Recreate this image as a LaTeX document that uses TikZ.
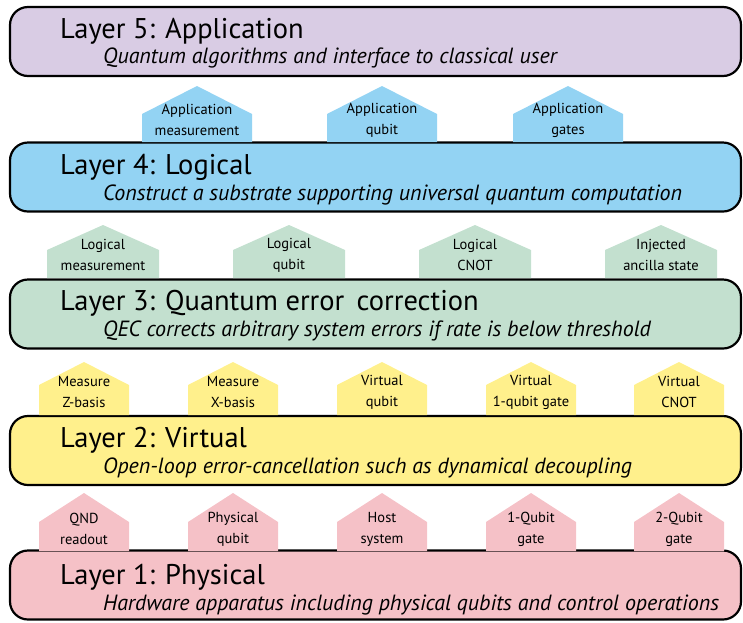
\documentclass[tikz,border=0pt]{standalone}
\usepackage{fontspec}
\setmainfont{PT Sans}
\usepackage{tikz}

\definecolor{lavfill}{HTML}{D9CCE4}
\definecolor{bluefill}{HTML}{93D3F3}
\definecolor{greenfill}{HTML}{C3E0CF}
\definecolor{yellowfill}{HTML}{FFF08C}
\definecolor{pinkfill}{HTML}{F5C1C7}

\begin{document}
\begin{tikzpicture}[x=1pt,y=-1pt,
        layer/.style={draw=black, line width=2.2pt, rounded corners=18pt, inner sep=0pt,
            minimum width=731pt, minimum height=69pt},
        title/.style={anchor=base west, inner sep=0pt, font=\fontsize{28.5}{32}\selectfont},
        subtitle/.style={anchor=base west, inner sep=0pt, font=\fontsize{22}{26}\selectfont\itshape},
        signtext/.style={align=center, inner sep=0pt, font=\fontsize{14.5}{21}\selectfont}]
        \useasboundingbox (0,0) rectangle (743,622);

        % the five layers
        \node[layer, fill=lavfill] (lay5) at (375.5,41.5) {};
        \node[layer, fill=bluefill] (lay4) at (375.5,177) {};
        \node[layer, fill=greenfill] (lay3) at (375.5,314) {};
        \node[layer, fill=yellowfill] (lay2) at (375.5,450.5) {};
        \node[layer, fill=pinkfill] (lay1) at (375.5,585) {};

        \node[title] (t5) at (60,38) {Layer 5: Application};
        \node[subtitle] (s5) at (103,63) {Quantum algorithms and interface to classical user};
        \node[title] (t4) at (60,174) {Layer 4: Logical};
        \node[subtitle] (s4) at (103,200) {Construct a substrate supporting universal quantum computation};
        \node[title] (t3) at (60,310) {Layer 3: Quantum error\, correction};
        \node[subtitle] (s3) at (103,336) {QEC corrects arbitrary system errors if rate is below threshold};
        \node[title] (t2) at (60,447) {Layer 2: Virtual};
        \node[subtitle] (s2) at (103,473) {Open-loop error-cancellation such as dynamical decoupling};
        \node[title] (t1) at (60,584) {Layer 1: Physical};
        \node[subtitle] (s1) at (103,610) {Hardware apparatus including physical qubits and control operations};

        % services passed up between layers
        \foreach \cx/\txt [count=\i] in {197/{Application\\measurement}, 382/{Application\\qubit}, 568/{Application\\gates}} {
            \fill[bluefill] (\cx-55,142) -- (\cx-55,114) -- (\cx,86) -- (\cx+55,114) -- (\cx+55,142) -- cycle;
            \node[signtext] (app\i) at (\cx,120) {\txt};
        }
        \foreach \cx/\txt [count=\i] in {103/{Logical\\measurement}, 289/{Logical\\qubit}, 475/{Logical\\CNOT}, 661/{Injected\\ancilla state}} {
            \fill[greenfill] (\cx-56,278) -- (\cx-56,250) -- (\cx,225) -- (\cx+56,250) -- (\cx+56,278) -- cycle;
            \node[signtext] (log\i) at (\cx,255) {\txt};
        }
        \foreach \cx/\txt [count=\i] in {84/{Measure\\Z-basis}, 233/{Measure\\X-basis}, 382/{Virtual\\qubit}, 531/{Virtual\\1-qubit gate}, 679/{Virtual\\CNOT}} {
            \fill[yellowfill] (\cx-45,415) -- (\cx-45,385) -- (\cx,362) -- (\cx+45,385) -- (\cx+45,415) -- cycle;
            \node[signtext] (vir\i) at (\cx,392) {\txt};
        }
        \foreach \cx/\txt [count=\i] in {84/{QND\\readout}, 233/{Physical\\qubit}, 382/{Host\\system}, 531/{1-Qubit\\gate}, 679/{2-Qubit\\gate}} {
            \fill[pinkfill] (\cx-45,551) -- (\cx-45,522) -- (\cx,493) -- (\cx+45,522) -- (\cx+45,551) -- cycle;
            \node[signtext] (phy\i) at (\cx,529) {\txt};
        }
    \end{tikzpicture}
\end{document}
